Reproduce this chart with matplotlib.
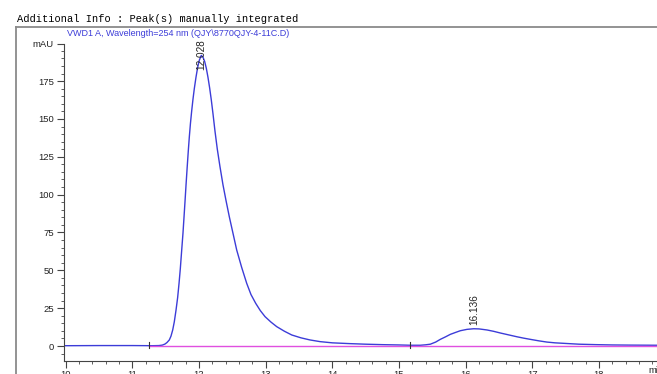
import numpy as np
import matplotlib.pyplot as plt
from matplotlib.lines import Line2D
from matplotlib.ticker import MultipleLocator

# Chromatogram trace (min, mAU)
t = [10.00, 10.50, 11.00, 11.30, 11.40, 11.45, 11.49, 11.52, 11.555, 11.58,
     11.606, 11.63, 11.656, 11.68, 11.701, 11.72, 11.741, 11.76, 11.776, 11.792,
     11.806, 11.823, 11.84, 11.855, 11.872, 11.89, 11.91, 11.93, 11.955, 11.98,
     12.005, 12.035, 12.06, 12.085, 12.11, 12.135, 12.16, 12.185, 12.21, 12.24,
     12.275, 12.315, 12.36, 12.406, 12.455, 12.51, 12.566, 12.64, 12.716, 12.78,
     12.851, 12.92, 12.991, 13.08, 13.166, 13.28, 13.391, 13.53, 13.666, 13.816,
     14.00, 14.25, 14.50, 14.75, 15.00, 15.17, 15.32, 15.40, 15.47, 15.55,
     15.62, 15.70, 15.77, 15.85, 15.92, 16.02, 16.12, 16.20, 16.32, 16.42,
     16.52, 16.65, 16.77, 16.87, 16.97, 17.10, 17.22, 17.34, 17.46, 17.70,
     17.96, 18.20, 18.46, 18.87]
mau = [0.2, 0.3, 0.3, 0.2, 0.3, 0.6, 1.3, 2.3, 4.0, 6.5,
       10.6, 16.0, 23.8, 32.0, 41.4, 51.0, 63.4, 74.5, 85.4, 96.5,
       106.5, 118.0, 129.0, 138.0, 147.0, 155.0, 163.0, 170.0, 177.5, 184.0,
       188.8, 192.0, 190.8, 188.0, 183.5, 177.5, 170.5, 162.5, 153.5, 142.0,
       130.0, 118.5, 106.5, 96.0, 85.4, 74.5, 63.4, 52.0, 41.4, 34.0,
       28.2, 23.4, 19.4, 15.8, 12.8, 9.8, 7.3, 5.4, 4.0, 2.9,
       2.1, 1.6, 1.2, 0.9, 0.7, 0.5, 0.5, 0.8, 1.2, 2.6,
       4.4, 6.1, 7.7, 9.0, 10.1, 11.0, 11.4, 11.3, 10.6, 9.7,
       8.6, 7.3, 6.1, 5.2, 4.4, 3.4, 2.6, 2.1, 1.8, 1.2,
       0.9, 0.7, 0.6, 0.5]

# peaks: retention time label and label base height
peak_rt = [12.028, 16.136]
peak_lbl_y = [182, 14]
# integration start/end marks
marks = [11.256, 15.166]
baseline_x = [11.256, 18.87]

blue = '#3c3cd8'
pink = '#e050e0'

plt.rcParams['font.family'] = ['Liberation Sans', 'DejaVu Sans']

fig = plt.figure(figsize=(6.57, 3.74), dpi=100)
W, H = 657, 374

# outer frame (left and top edges only visible)
fig.add_artist(Line2D([15.7 / W, 15.7 / W], [0, 1 - 27 / H], color='#8a8a8a', lw=1.3,
                      transform=fig.transFigure))
fig.add_artist(Line2D([15.7 / W, 1], [1 - 27 / H, 1 - 27 / H], color='#8a8a8a', lw=1.3,
                      transform=fig.transFigure))

fig.text(17 / W, 1 - 19 / H, 'Additional Info : Peak(s) manually integrated',
         family='Liberation Mono', fontsize=7.5, va='center', ha='left')
fig.text(67 / W, 1 - 33 / H, 'VWD1 A, Wavelength=254 nm (QJY\\8770QJY-4-11C.D)',
         color=blue, fontsize=6.45, va='center', ha='left')

ax = fig.add_axes([63.5 / W, 1 - 360.7 / H, (W - 63.5) / W, (360.7 - 44) / H])
ymin, ymax = -9.7, 199.5
ax.set_xlim(9.968, 18.87)
ax.set_ylim(ymin, ymax)

ax.plot(t, mau, color=blue, lw=1.0, zorder=2)
ax.plot(baseline_x, [0.1, 0.1], color=pink, lw=1.0, zorder=3)
for m in marks:
    ax.plot([m, m], [-1.5, 2.5], color='#333333', lw=0.8, zorder=4)

for rt, ly in zip(peak_rt, peak_lbl_y):
    ax.text(rt, ly, f'{rt:.3f}', rotation=90, ha='center', va='bottom',
            fontsize=7.2, color='#222222')

for s in ['top', 'right']:
    ax.spines[s].set_visible(False)
for s in ['left', 'bottom']:
    ax.spines[s].set_color('#444444')
    ax.spines[s].set_linewidth(0.8)

yt = [0, 25, 50, 75, 100, 125, 150, 175, ymax]
ax.set_yticks(yt)
ax.set_yticklabels([str(v) for v in yt[:-1]] + ['mAU'])
ax.yaxis.set_minor_locator(MultipleLocator(5))
ax.set_xticks(np.arange(10, 19, 1))
ax.xaxis.set_minor_locator(MultipleLocator(0.2))
ax.tick_params(which='major', length=5, width=0.8, color='#444444',
               labelsize=6.8, labelcolor='#222222', pad=2)
ax.tick_params(which='minor', length=2.5, width=0.6, color='#444444')
ax.text(18.735, -13.5, 'min', fontsize=6.8, color='#222222', ha='left', va='top',
        clip_on=False)

fig.savefig('out.png', dpi=100)
